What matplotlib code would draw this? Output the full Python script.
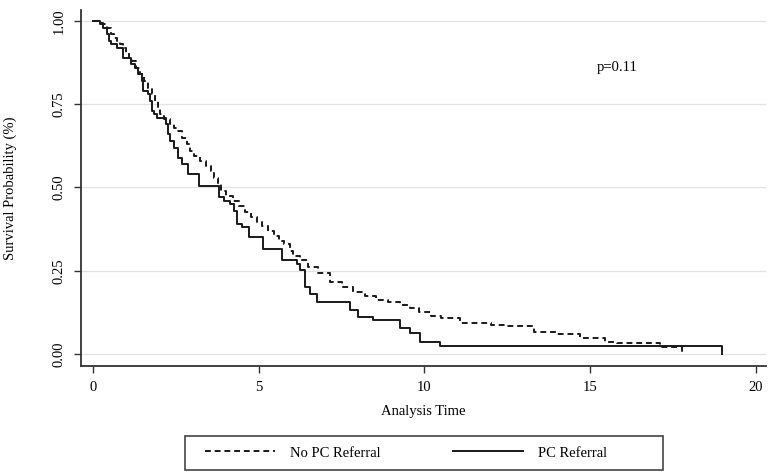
import numpy as np
import matplotlib.pyplot as plt
from matplotlib.patches import Rectangle
from matplotlib.lines import Line2D

plt.rcParams["font.family"] = ["Liberation Serif", "DejaVu Serif"]

# %% data (step, post)
no_pc_time = [0, 0.2, 0.3, 0.42, 0.55, 0.65, 0.73, 0.82, 0.91, 1.0, 1.1, 1.18,
              1.3, 1.42, 1.55, 1.67, 1.78, 1.88, 1.95, 2.03, 2.15, 2.33, 2.45,
              2.55, 2.7, 2.85, 2.94, 3.05, 3.24, 3.4, 3.55, 3.64, 3.76, 3.85,
              4.0, 4.24, 4.4, 4.6, 4.76, 4.95, 5.1, 5.27, 5.45, 5.6, 5.76,
              5.95, 6.05, 6.24, 6.5, 6.8, 7.15, 7.5, 7.85, 8.2, 8.55, 8.9,
              9.25, 9.55, 9.85, 10.2, 10.5, 11.07, 12.0, 12.5, 13.3, 14.0,
              14.7, 15.45, 15.8, 17.1, 17.78]
no_pc_surv = [1.0, 0.995, 0.99, 0.98, 0.96, 0.95, 0.94, 0.93, 0.92, 0.905, 0.89,
              0.88, 0.86, 0.84, 0.82, 0.80, 0.78, 0.76, 0.74, 0.72, 0.705, 0.69,
              0.68, 0.67, 0.65, 0.63, 0.61, 0.595, 0.58, 0.565, 0.55, 0.53,
              0.51, 0.49, 0.475, 0.46, 0.445, 0.425, 0.41, 0.395, 0.385, 0.37,
              0.355, 0.34, 0.33, 0.31, 0.295, 0.282, 0.26, 0.243, 0.216, 0.2,
              0.186, 0.174, 0.162, 0.155, 0.147, 0.138, 0.126, 0.115, 0.108,
              0.093, 0.087, 0.084, 0.066, 0.06, 0.048, 0.037, 0.032, 0.022, 0.0]

pc_time = [0, 0.2, 0.3, 0.42, 0.5, 0.55, 0.72, 0.9, 1.15, 1.27, 1.35, 1.48,
           1.52, 1.67, 1.72, 1.78, 1.85, 1.93, 2.2, 2.27, 2.33, 2.45, 2.58,
           2.7, 2.88, 3.2, 3.8, 3.95, 4.15, 4.25, 4.36, 4.5, 4.7, 5.14, 5.7,
           6.15, 6.24, 6.4, 6.55, 6.75, 7.75, 8.0, 8.45, 9.26, 9.56, 9.86,
           10.47, 18.97]
pc_surv = [1.0, 0.99, 0.98, 0.96, 0.94, 0.93, 0.92, 0.89, 0.87, 0.86, 0.84,
           0.82, 0.79, 0.78, 0.76, 0.73, 0.72, 0.71, 0.69, 0.66, 0.64, 0.62,
           0.59, 0.57, 0.54, 0.505, 0.47, 0.46, 0.45, 0.43, 0.39, 0.38, 0.35,
           0.315, 0.282, 0.27, 0.252, 0.2, 0.18, 0.156, 0.132, 0.111, 0.102,
           0.078, 0.063, 0.036, 0.024, 0.0]

x_ticks = [0, 5, 10, 15, 20]
y_ticks = [0.0, 0.25, 0.5, 0.75, 1.0]
y_labels = ["0.00", "0.25", "0.50", "0.75", "1.00"]

# %% plot
fig = plt.figure(figsize=(7.71, 4.73), dpi=100)
ax = fig.add_axes([0.105, 0.2262, 0.8885, 0.7527])

line_col = "#1a1a1a"
ax.step(no_pc_time, no_pc_surv, where="post", color=line_col, lw=1.4,
        linestyle=(0, (3, 2)))
ax.step(pc_time, pc_surv, where="post", color=line_col, lw=1.4)

ax.set_xlim(-0.36, 20.3)
ax.set_ylim(-0.036, 1.033)
ax.set_xticks(x_ticks)
ax.set_yticks(y_ticks)
ax.set_yticklabels(y_labels, rotation=90, va="center")
ax.grid(axis="y", color="#e2e2e2", lw=0.9)
ax.set_axisbelow(True)

for side in ["top", "right"]:
    ax.spines[side].set_visible(False)
for side in ["left", "bottom"]:
    ax.spines[side].set_color("#333333")
    ax.spines[side].set_linewidth(1.3)
ax.tick_params(axis="both", labelsize=10.5, color="#333333", length=5,
               width=1.0, pad=6)

ax.set_xlabel("Analysis Time", fontsize=10.5, labelpad=8)
ax.set_ylabel("Survival Probability (%)", fontsize=10.5, labelpad=26)

ax.text(15.2, 0.86, "p=0.11", fontsize=10.5, ha="left", va="center")

# legend box below the plot
fig.patches.append(Rectangle((185 / 771, 1 - 470 / 473), 478 / 771, 34 / 473,
                             transform=fig.transFigure, fill=False,
                             edgecolor="#444444", lw=1.2))
handles = [Line2D([], [], color=line_col, lw=1.4, linestyle=(0, (3, 2))),
           Line2D([], [], color=line_col, lw=1.4)]
fig.legend(handles, ["No PC Referral", "PC Referral"], ncol=2,
           loc="center left", bbox_to_anchor=(192 / 771, 1 - 453 / 473),
           frameon=False, fontsize=10.5, handlelength=4.8,
           handletextpad=1.05, columnspacing=4.9)

plt.savefig("out.png", dpi=100)
